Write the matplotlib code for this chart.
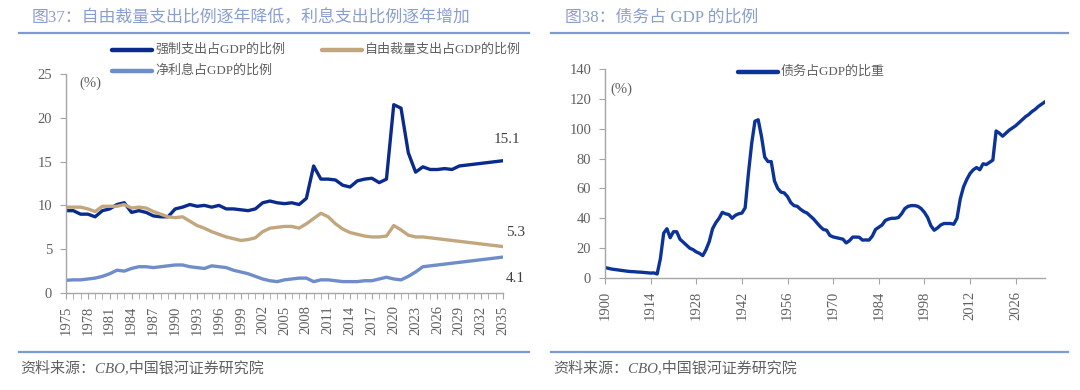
import numpy as np
import matplotlib
matplotlib.use("Agg")
import matplotlib.pyplot as plt
from matplotlib.lines import Line2D

# ---------------- data ----------------
years_left = list(range(1975, 2036))
mandatory = [9.4, 9.4, 9.0, 9.0, 8.7, 9.4, 9.6, 10.1, 10.3, 9.2,
             9.4, 9.2, 8.8, 8.7, 8.7, 9.6, 9.8, 10.1, 9.9, 10.0,
             9.8, 10.0, 9.6, 9.6, 9.5, 9.4, 9.6, 10.3, 10.5, 10.3,
             10.2, 10.3, 10.1, 10.8, 14.5, 13.0, 13.0, 12.9, 12.3, 12.1,
             12.8, 13.0, 13.1, 12.6, 13.0, 21.5, 21.1, 16.0, 13.8, 14.4,
             14.1, 14.1, 14.2, 14.1, 14.5, 14.6, 14.7, 14.8, 14.9, 15.0,
             15.1]
discretionary = [9.8, 9.8, 9.8, 9.6, 9.3, 9.9, 9.9, 9.9, 10.1, 9.7,
                 9.8, 9.7, 9.3, 9.0, 8.7, 8.6, 8.7, 8.2, 7.7, 7.4,
                 7.0, 6.7, 6.4, 6.2, 6.0, 6.1, 6.3, 7.0, 7.4, 7.5,
                 7.6, 7.6, 7.4, 7.9, 8.5, 9.1, 8.7, 7.9, 7.3, 6.9,
                 6.7, 6.5, 6.4, 6.4, 6.5, 7.7, 7.2, 6.6, 6.4, 6.4,
                 6.3, 6.2, 6.1, 6.0, 5.9, 5.8, 5.7, 5.6, 5.5, 5.4,
                 5.3]
net_interest = [1.45, 1.5, 1.5, 1.6, 1.7, 1.9, 2.2, 2.6, 2.5, 2.8,
                3.0, 3.0, 2.9, 3.0, 3.1, 3.2, 3.2, 3.0, 2.9, 2.8,
                3.1, 3.0, 2.9, 2.6, 2.4, 2.2, 1.9, 1.6, 1.4, 1.3,
                1.5, 1.6, 1.7, 1.7, 1.3, 1.5, 1.5, 1.4, 1.3, 1.3,
                1.3, 1.4, 1.4, 1.6, 1.8, 1.6, 1.5, 1.9, 2.4, 3.0,
                3.1, 3.2, 3.3, 3.4, 3.5, 3.6, 3.7, 3.8, 3.9, 4.0,
                4.1]

years_right = list(range(1900, 2036))
debt = [7.0, 6.5, 6.0, 5.7, 5.4, 5.1, 4.8, 4.5, 4.3, 4.2,      # 1900-1909
        4.0, 3.9, 3.7, 3.5, 3.3, 3.4, 2.7, 13.0, 30.0, 33.0,   # 1910-1919
        27.0, 31.0, 31.0, 26.0, 24.0, 22.0, 20.0, 19.0, 17.5, 16.5,  # 1920-1929
        15.0, 19.0, 24.5, 33.0, 37.0, 40.0, 44.0, 43.0, 42.5, 40.0,  # 1930-1939
        42.0, 43.0, 43.5, 47.0, 70.0, 90.0, 105.0, 106.0, 95.0, 81.0,  # 1940-1949
        78.0, 78.0, 65.0, 60.0, 57.5, 57.0, 54.5, 50.5, 48.5, 48.0,  # 1950-1959
        46.0, 44.5, 43.5, 41.5, 39.5, 37.0, 34.5, 32.5, 32.0, 28.5,  # 1960-1969
        27.5, 27.0, 26.5, 26.0, 23.5, 25.0, 27.4, 27.4, 27.3, 25.4,  # 1970-1979
        25.5, 25.4, 28.0, 32.5, 34.0, 35.5, 38.5, 39.5, 40.0, 40.0,  # 1980-1989
        40.5, 43.0, 46.5, 48.0, 48.5, 48.5, 48.0, 46.5, 44.0, 40.5,  # 1990-1999
        35.0, 32.0, 33.5, 35.5, 36.5, 36.5, 36.5, 36.0, 40.0, 53.0,  # 2000-2009
        61.0, 66.0, 70.0, 72.5, 74.0, 72.5, 76.5, 76.0, 77.5, 79.0,  # 2010-2019
        98.5, 97.0, 95.0, 97.0, 99.0, 100.5, 102.0, 104.0, 106.0, 108.0,  # 2020-2029
        109.5, 111.5, 113.0, 115.0, 116.5, 118.0]                  # 2030-2035

left_xticks = list(range(1975, 2036, 3))
right_xticks = list(range(1900, 2036, 14))
left_yticks = [0, 5, 10, 15, 20, 25]
right_yticks = list(range(0, 141, 20))

end_labels = ["15.1", "5.3", "4.1"]

# ---------------- style ----------------
W, H = 1080, 390
fig = plt.figure(figsize=(W / 100, H / 100), dpi=100)
fig.patch.set_facecolor("white")

FAM = ["Liberation Serif", "Noto Sans CJK SC", "DejaVu Sans"]
plt.rcParams["font.family"] = FAM

C_MAND = "#0B2B8C"
C_DISC = "#C2A77E"
C_INT = "#6F8DC9"
C_DEBT = "#0C3397"
C_TITLE = "#8A9FCF"
C_RULE = "#7C9BD2"
C_TXT = "#606060"
C_AX = "#A6A6A6"


def fx(px):
    return px / W


def fy(py):
    return 1 - py / H


def style_axes(ax):
    for s in ["top", "right"]:
        ax.spines[s].set_visible(False)
    for s in ["left", "bottom"]:
        ax.spines[s].set_color(C_AX)
        ax.spines[s].set_linewidth(1.0)
    ax.tick_params(axis="both", which="both", colors=C_AX, labelcolor=C_TXT,
                   direction="out", labelsize=10.5)
    ax.tick_params(axis="both", which="major", length=4)
    ax.tick_params(axis="x", which="minor", length=4)
    ax.tick_params(axis="x", which="major", pad=5)
    ax.tick_params(axis="y", which="major", pad=6)
    for lab in ax.get_xticklabels() + ax.get_yticklabels():
        lab.set_family(FAM)


# ---------------- left chart ----------------
axL = fig.add_axes([fx(66), fy(293), fx(503 - 66), (293 - 74) / H])
axL.plot(years_left, mandatory, color=C_MAND, lw=2.4, solid_joinstyle="round")
axL.plot(years_left, discretionary, color=C_DISC, lw=2.4, solid_joinstyle="round")
axL.plot(years_left, net_interest, color=C_INT, lw=2.4, solid_joinstyle="round")
axL.set_xlim(years_left[0], years_left[-1])
axL.set_ylim(0, 25)
axL.set_yticks(left_yticks)
axL.set_xticks(left_xticks)
axL.set_xticks(years_left, minor=True)
axL.set_xticklabels([str(y) for y in left_xticks], rotation=90)
style_axes(axL)
axL.text(1976.8, 24.0, "(%)", fontsize=10.5, color=C_TXT, family=FAM, va="center")

for val, lab, dx, dy in zip([mandatory[-1], discretionary[-1], net_interest[-1]],
                            end_labels, [4, 13, 12], [21, 14, -21]):
    axL.annotate(lab, (years_left[-1], val), xytext=(dx, dy),
                 textcoords="offset pixels", ha="center", va="center",
                 fontsize=11, color="#404040", family=FAM, annotation_clip=False)


# legend (manual, figure coordinates)
def legend_item(x0, y, color, text):
    fig.add_artist(Line2D([fx(x0), fx(x0 + 40)], [fy(y), fy(y)], color=color, lw=3.2,
                          solid_capstyle="round", transform=fig.transFigure))
    fig.text(fx(x0 + 43), fy(y), text, fontsize=9.4, color=C_TXT, family=FAM, va="center")


legend_item(112, 50, C_MAND, "强制支出占GDP的比例")
legend_item(322, 50, C_DISC, "自由裁量支出占GDP的比例")
legend_item(112, 71, C_INT, "净利息占GDP的比例")

# ---------------- right chart ----------------
axR = fig.add_axes([fx(605), fy(278), fx(1045 - 605), (278 - 69) / H])
axR.plot(years_right, debt, color=C_DEBT, lw=2.4, solid_joinstyle="round")
axR.set_xlim(years_right[0], years_right[-1])
axR.set_ylim(0, 140)
axR.set_yticks(right_yticks)
axR.set_xticks(right_xticks)
axR.set_xticklabels([str(y) for y in right_xticks], rotation=90)
style_axes(axR)
axR.text(1901.5, 126.5, "(%)", fontsize=10.5, color=C_TXT, family=FAM, va="center")
legend_item(738, 72, C_DEBT, "债务占GDP的比重")

# ---------------- titles, rules, sources ----------------
fig.text(fx(32), fy(18), "图37：自由裁量支出比例逐年降低，利息支出比例逐年增加",
         fontsize=12.2, color=C_TITLE, family=FAM, va="center")
fig.text(fx(565), fy(18), "图38：债务占 GDP 的比例",
         fontsize=12.2, color=C_TITLE, family=FAM, va="center")
for x0, x1 in [(19, 529), (551, 1068)]:
    for y in (33, 352):
        fig.add_artist(Line2D([fx(x0), fx(x1)], [fy(y), fy(y)], color=C_RULE, lw=1.6,
                              transform=fig.transFigure))
for x0 in (20, 553):
    fig.text(fx(x0), fy(368), "资料来源：CBO,中国银河证券研究院", fontsize=10.8,
             color=C_TXT, family=FAM, style="italic", va="center")

assert len(debt) == len(years_right), len(debt)
assert len(mandatory) == len(discretionary) == len(net_interest) == len(years_left)

fig.savefig("out.png", dpi=100, facecolor="white")
